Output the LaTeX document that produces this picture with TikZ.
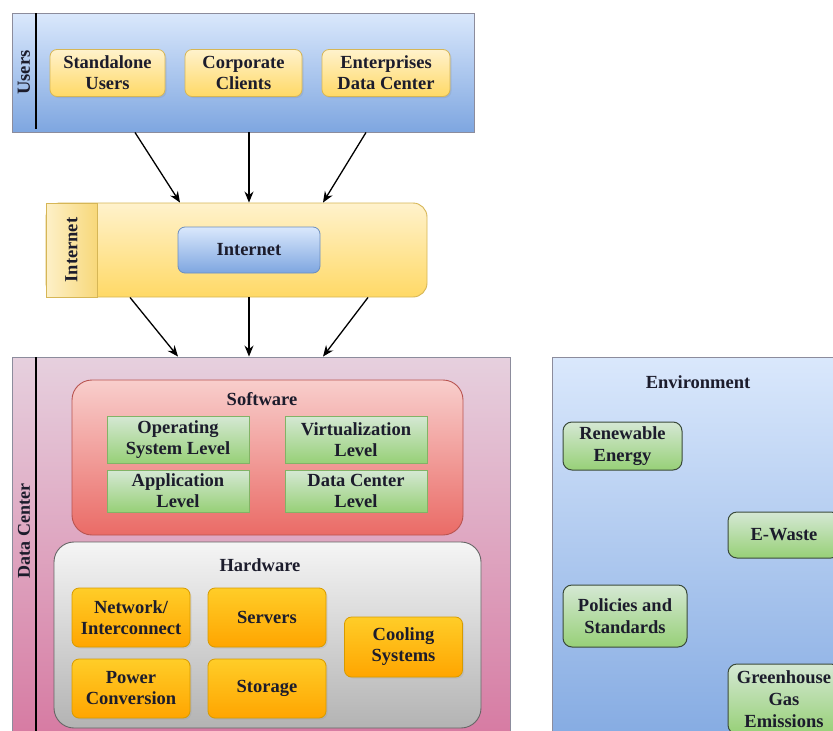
\documentclass[tikz,border=0pt]{standalone}
\usepackage{fontspec}
\setmainfont{Liberation Serif}
\usetikzlibrary{arrows.meta,shadows}
\definecolor{txt}{HTML}{1C1C2C}
\definecolor{blueT}{HTML}{DAE8FC}\definecolor{blueB}{HTML}{7EA6E0}\definecolor{blueD}{HTML}{6C8EBF}
\definecolor{yelT}{HTML}{FFF2CC}\definecolor{yelB}{HTML}{FFD966}\definecolor{yelD}{HTML}{D6B656}
\definecolor{stripL}{HTML}{FDF0C8}\definecolor{stripR}{HTML}{F8D87A}
\definecolor{pinkT}{HTML}{E6D0DE}\definecolor{pinkB}{HTML}{D5739D}
\definecolor{redT}{HTML}{F8CECC}\definecolor{redB}{HTML}{EA6B66}\definecolor{redD}{HTML}{B85450}
\definecolor{greT}{HTML}{D5E8D4}\definecolor{greB}{HTML}{97D077}\definecolor{greD}{HTML}{82B366}
\definecolor{grayT}{HTML}{F5F5F5}\definecolor{grayB}{HTML}{B3B3B3}\definecolor{grayD}{HTML}{666666}
\definecolor{oraT}{HTML}{FFCD28}\definecolor{oraB}{HTML}{FFA500}\definecolor{oraD}{HTML}{D79B00}
\definecolor{frame}{HTML}{8C8C9C}
\definecolor{envD}{HTML}{3A4A3A}
\tikzset{
  lbl/.style={font=\fontsize{18.5}{21}\selectfont\bfseries, text=txt, align=center},
  contbox/.style={draw=frame, line width=0.9pt, inner sep=0pt},
  ybox/.style={lbl, draw=yelD, line width=0.8pt, rounded corners=7pt, top color=yelT, bottom color=yelB, inner sep=0pt,
     drop shadow={opacity=0.18, shadow xshift=1.5pt, shadow yshift=-1.5pt}},
  gbox/.style={lbl, draw=greD, line width=0.8pt, top color=greT, bottom color=greB, inner sep=0pt, minimum width=142pt},
  obox/.style={lbl, draw=oraD, line width=0.8pt, rounded corners=7pt, top color=oraT, bottom color=oraB, inner sep=0pt,
     minimum width=118pt, minimum height=59pt, drop shadow={opacity=0.15, shadow xshift=1.5pt, shadow yshift=-1.5pt}},
  ebox/.style={lbl, font=\fontsize{18.5}{22}\selectfont\bfseries, draw=envD, line width=1pt, rounded corners=9pt,
     top color=greT, bottom color=greB, inner sep=0pt},
  bbox/.style={lbl, draw=blueD, line width=0.8pt, rounded corners=7pt, top color=blueT, bottom color=blueB, inner sep=0pt},
  arr/.style={draw=black, line width=1.3pt, -{Stealth[length=11pt,width=9pt]}},
}
\begin{document}
\begin{tikzpicture}[x=1pt,y=-1pt]
\useasboundingbox (0,0) rectangle (833,731);
\clip (0,0) rectangle (833,731);
\fill[white] (0,0) rectangle (833,731);

% ---------- Users ----------
\node[contbox, top color=blueT, bottom color=blueB, minimum width=462pt, minimum height=119pt] (users) at (243,72.5) {};
\coordinate (ustripT) at (36,13);
\coordinate (ustripB) at (36,129);
\draw[line width=1.2pt, black] (ustripT) -- (ustripB);
\node[lbl, rotate=90] (userslbl) at (24,72.5) {Users};
\node[ybox, minimum width=115pt, minimum height=47pt] (sa) at (107.5,73) {Standalone\\Users};
\node[ybox, minimum width=117pt, minimum height=47pt] (cc) at (243.5,73) {Corporate\\Clients};
\node[ybox, minimum width=128pt, minimum height=47pt] (ed) at (386,73) {Enterprises\\Data Center};

% ---------- Internet ----------
\node[draw=yelD, line width=0.9pt, rounded corners=14pt, top color=yelT, bottom color=yelB,
      minimum width=381pt, minimum height=94pt, inner sep=0pt] (inet) at (236.5,250) {};
\node[draw=yelD, line width=0.9pt, left color=stripL, right color=stripR,
      minimum width=51pt, minimum height=94pt, inner sep=0pt] (istrip) at (71.5,250) {};
\node[lbl, rotate=90] (inetlbl) at (71.5,250) {Internet};
\node[bbox, minimum width=142pt, minimum height=46pt] (inode) at (249,250) {Internet};

% ---------- Data Center ----------
\node[contbox, top color=pinkT, bottom color=pinkB, minimum width=498pt, minimum height=413pt] (dc) at (261,563.5) {};
\coordinate (dstripT) at (36,357);
\coordinate (dstripB) at (36,770);
\draw[line width=1.2pt, black] (dstripT) -- (dstripB);
\node[lbl, font=\fontsize{18}{21}\selectfont\bfseries, rotate=90] (dclbl) at (24,531) {Data Center};

% Software
\node[draw=redD, line width=0.9pt, rounded corners=20pt, top color=redT, bottom color=redB,
      minimum width=391pt, minimum height=155pt, inner sep=0pt] (sw) at (267.5,457.5) {};
\node[lbl] (swlbl) at (262,399) {Software};
\node[gbox, minimum height=47pt] (os) at (178,439.5) {Operating\\System Level};
\node[gbox, minimum height=47pt] (virt) at (356,439.5) {Virtualization\\Level};
\node[gbox, minimum height=42pt] (app) at (178,491) {Application\\Level};
\node[gbox, minimum height=42pt] (dcl) at (356,491) {Data Center\\Level};

% Hardware
\node[draw=grayD, line width=0.9pt, rounded corners=20pt, top color=grayT, bottom color=grayB,
      minimum width=427pt, minimum height=186pt, inner sep=0pt] (hw) at (267.5,635) {};
\node[lbl] (hwlbl) at (260,565) {Hardware};
\node[obox] (net) at (131,617.5) {Network/\\Interconnect};
\node[obox] (srv) at (267,617.5) {Servers};
\node[obox] (pow) at (131,688.5) {Power\\Conversion};
\node[obox] (sto) at (267,688.5) {Storage};
\node[obox, minimum height=60pt] (cool) at (403.5,647) {Cooling\\Systems};

% ---------- Environment ----------
\node[contbox, top color=blueT, bottom color=blueB, minimum width=308pt, minimum height=413pt] (env) at (706,563.5) {};
\node[lbl] (envlbl) at (698,382) {Environment};
\node[ebox, minimum width=119pt, minimum height=48pt] (ren) at (622.5,446) {Renewable\\Energy};
\node[ebox, minimum width=112pt, minimum height=46pt] (ew) at (784,535) {E-Waste};
\node[ebox, minimum width=124pt, minimum height=62pt] (pol) at (625,616) {Policies and\\Standards};
\node[ebox, minimum width=112pt, minimum height=70pt] (gh) at (784,699) {Greenhouse\\Gas\\Emissions};

% ---------- Arrows ----------
\draw[arr] ([xshift=-108pt]users.south) -- ([xshift=-56.5pt]inet.north);
\draw[arr] ([xshift=6pt]users.south) -- ([xshift=12.5pt]inet.north);
\draw[arr] ([xshift=123pt]users.south) -- ([xshift=86.5pt]inet.north);
\draw[arr] ([xshift=-106.5pt]inet.south) -- ([xshift=-83pt]dc.north);
\draw[arr] ([xshift=12.5pt]inet.south) -- ([xshift=-12pt]dc.north);
\draw[arr] ([xshift=131.5pt]inet.south) -- ([xshift=62pt]dc.north);
\end{tikzpicture}
\end{document}
